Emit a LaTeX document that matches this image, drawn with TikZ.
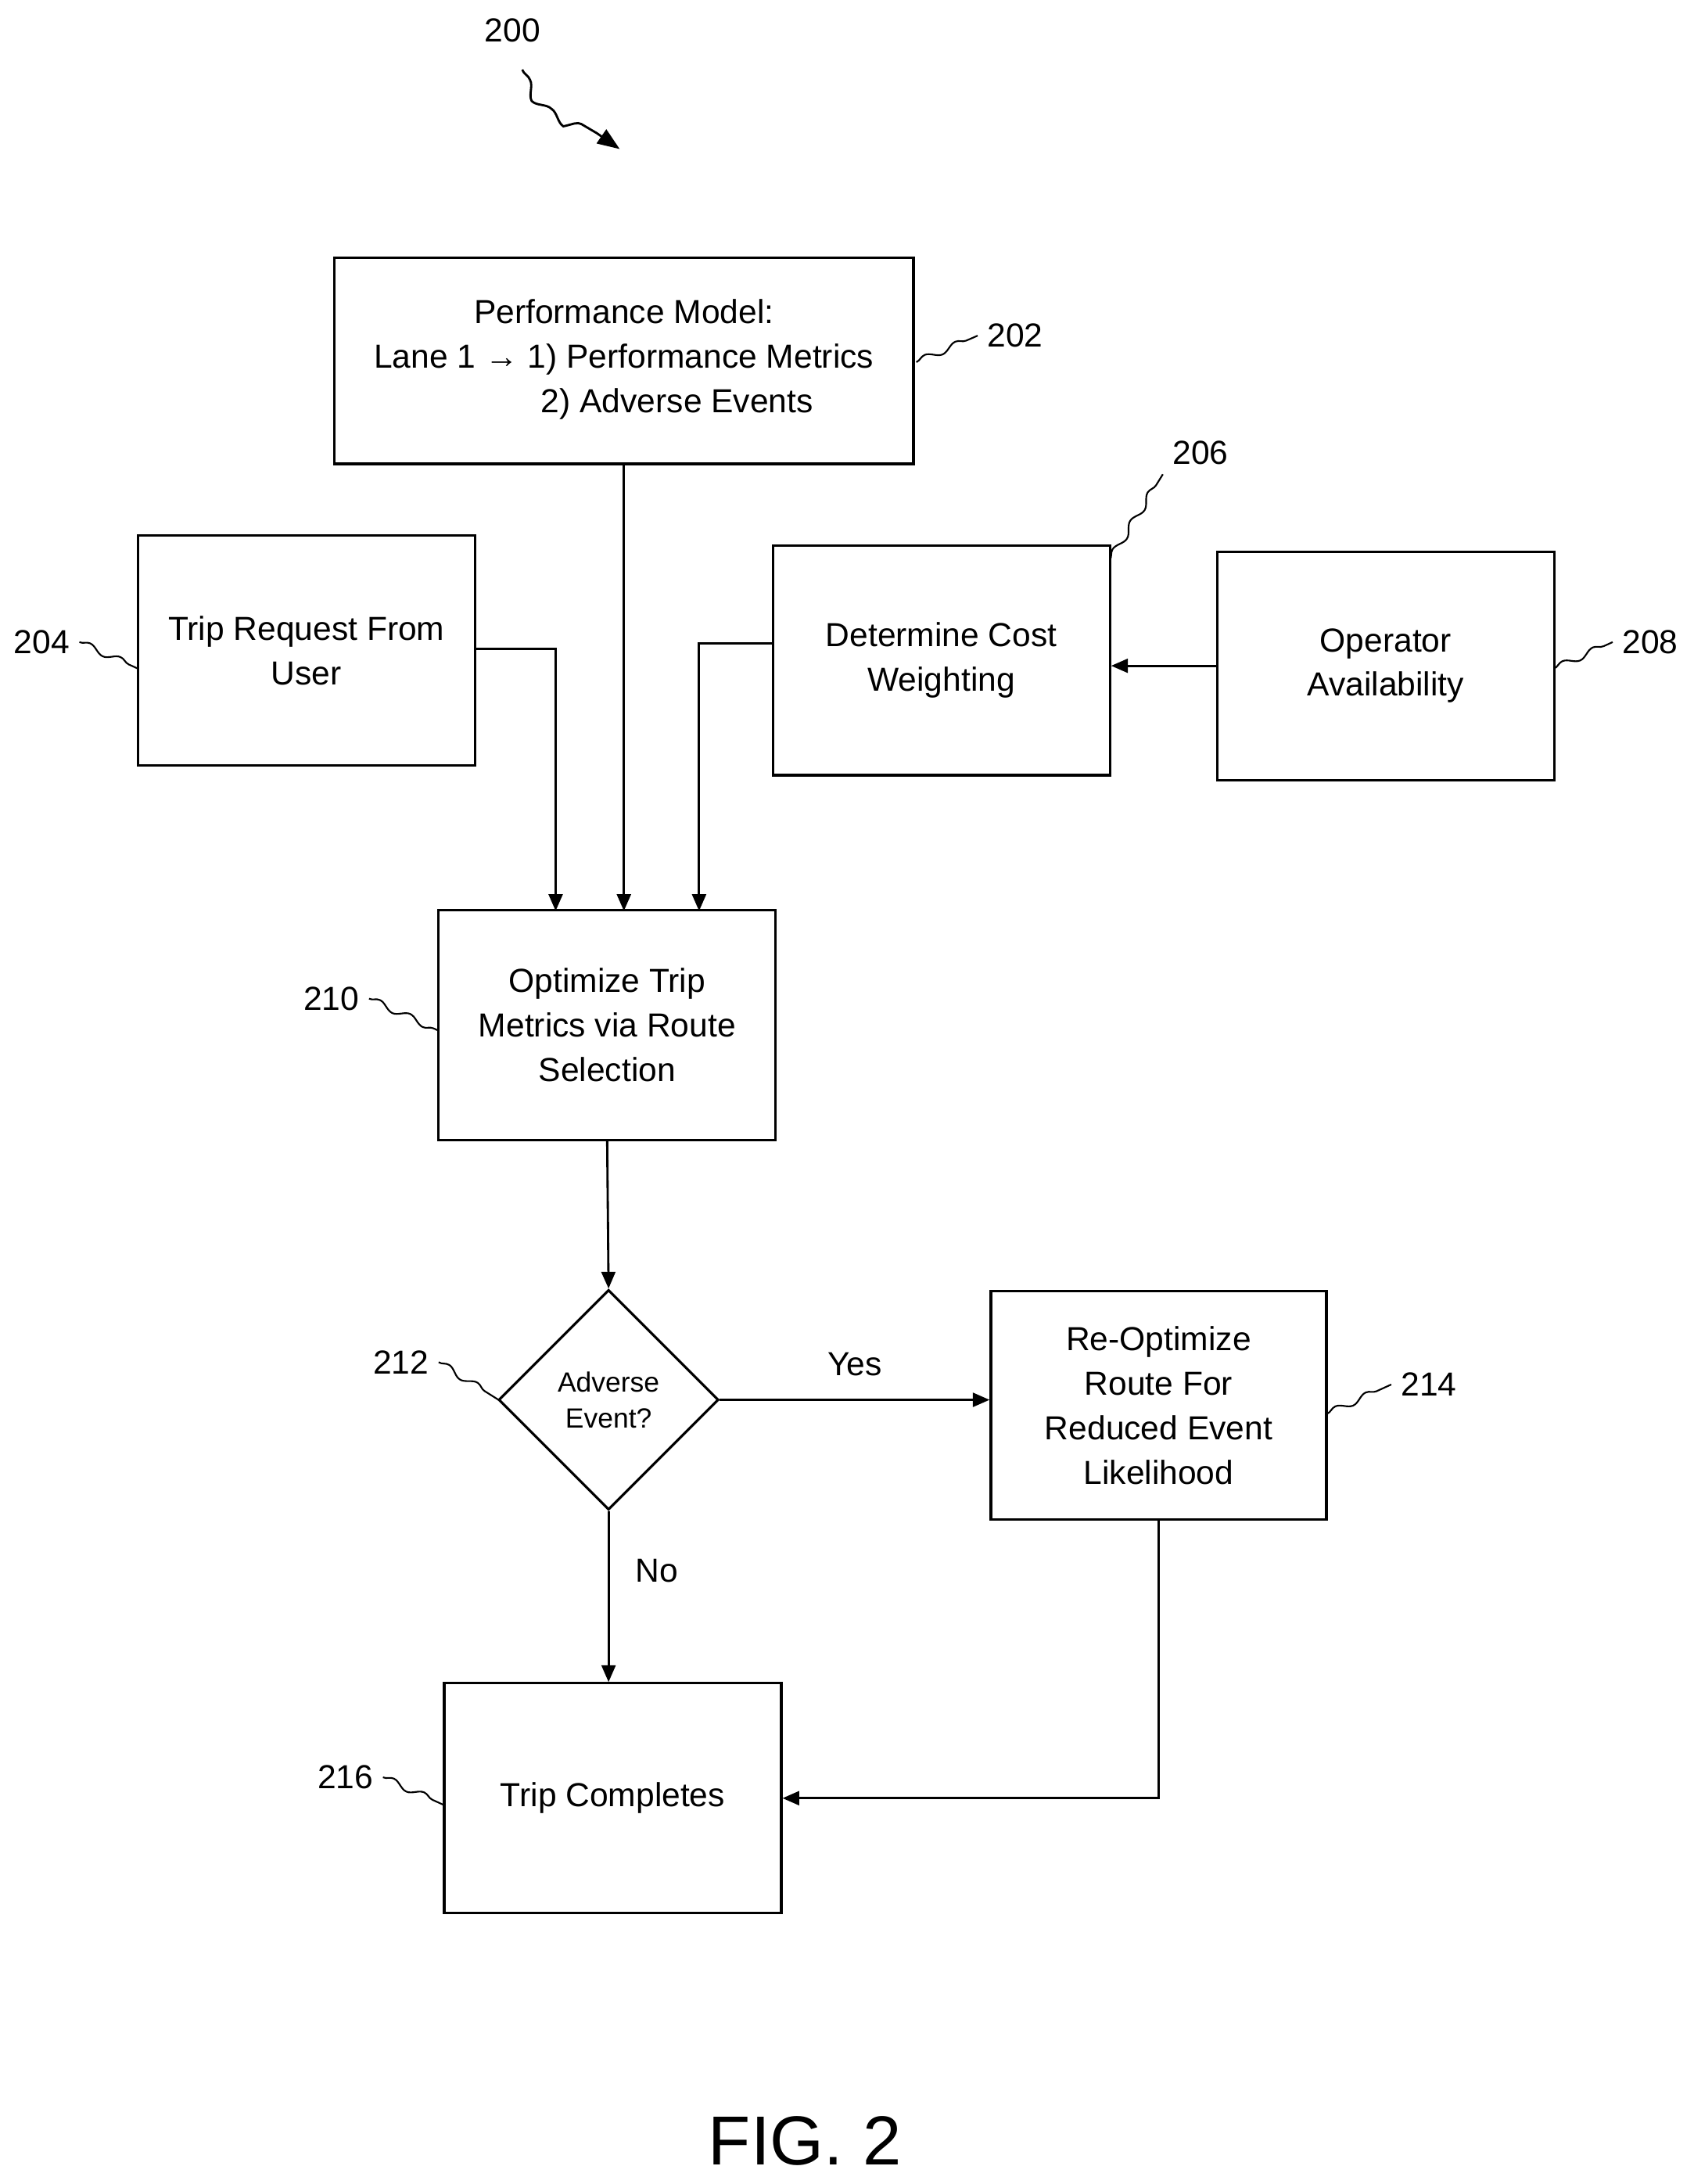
\documentclass[tikz,border=0pt]{standalone}
\usepackage{fontspec}
\setmainfont{Liberation Sans}
\usetikzlibrary{arrows.meta,decorations.pathmorphing,shapes.geometric}
\begin{document}
\begin{tikzpicture}[x=0.5bp,y=-0.5bp,
  box/.style={draw,line width=0.9pt,align=center,font=\fontsize{12}{16}\selectfont},
  arr/.style={line width=0.8pt,-{Triangle[length=6bp,width=5bp]}},
  sq/.style={line width=0.6pt,decorate,decoration={snake,amplitude=1.2bp,segment length=12bp}},
  num/.style={font=\fontsize{12}{14}\selectfont}]
\useasboundingbox (0,0) rectangle (1216,1568);
\draw[box] (240,185) rectangle (656,333);
\node[box,draw=none] (t202) at (448,258) {Performance Model:\\Lane 1 → 1) Performance Metrics\\\hspace*{3.2em}2) Adverse Events};
\coordinate (b202) at (448,333);
\node[box,minimum width=121bp,minimum height=82.5bp] (n204) at (220,467) {Trip Request From\\User};
\node[box,minimum width=121bp,minimum height=82.5bp] (n206) at (676,474) {Determine Cost\\Weighting};
\node[box,minimum width=121bp,minimum height=82bp] (n208) at (995,478) {Operator\\Availability};
\node[box,minimum width=121bp,minimum height=82.5bp] (n210) at (436,736) {Optimize Trip\\Metrics via Route\\Selection};
\node[draw,line width=0.9pt,diamond,minimum width=79bp,minimum height=79bp,inner sep=0pt,align=center,font=\fontsize{10}{13}\selectfont] (n212) at (437,1005) {Adverse\\Event?};
\node[box,minimum width=120.5bp,minimum height=82bp] (n214) at (832,1009) {Re-Optimize\\Route For\\Reduced Event\\Likelihood};
\node[box,minimum width=121bp,minimum height=82.5bp] (n216) at (440,1291) {Trip Completes};
\coordinate (c1) at (399,466);
\coordinate (c2) at (502,462);
\draw[arr] (n204.east|-c1) -| (399,654);
\draw[arr] (b202) -- (448,654);
\draw[arr] (n206.west|-c2) -| (502,654);
\draw[arr] (n208.west) -- (n206.east|-n208.west);
\draw[arr] (n210.south) -- (n212.north);
\draw[arr] (n212.east) -- node[above=5bp,num]{Yes} (n214.west|-n212.east);
\draw[arr] (n212.south) -- node[right=6bp,num,pos=0.35]{No} (n216.north-|n212.south);
\draw[arr] (n214.south) |- (n216.east);
% reference numerals
\node[num] (l200) at (368,22) {200};
\coordinate (a200) at (445,107);
\draw[line width=0.8pt,decorate,decoration={snake,amplitude=1.5bp,segment length=14bp,post length=10bp},-{Triangle[length=8bp,width=6bp]}] (375,50) .. controls (385,80) and (410,80) .. (a200);
\node[num] (l202) at (729,241) {202};
\node[num] (l204) at (30,461) {204};
\node[num] (l206) at (862,325) {206};
\node[num] (l208) at (1185,461) {208};
\node[num] (l210) at (238,717) {210};
\node[num] (l212) at (288,978) {212};
\node[num] (l214) at (1026,994) {214};
\node[num] (l216) at (248,1276) {216};
\draw[sq] (658,260) -- (l202.west);
\draw[sq] (797,402) -- (l206.south west);
\draw[sq] (l204.east) -- (99,480);
\draw[sq] (1116,480) -- (l208.west);
\draw[sq] (l210.east) -- (315,740);
\draw[sq] (l212.east) -- (358,1005);
\draw[sq] (953,1015) -- (l214.west);
\draw[sq] (l216.east) -- (319,1296);
\node[font=\fontsize{25}{28}\selectfont] (fig) at (578,1537) {FIG. 2};
\end{tikzpicture}
\end{document}
